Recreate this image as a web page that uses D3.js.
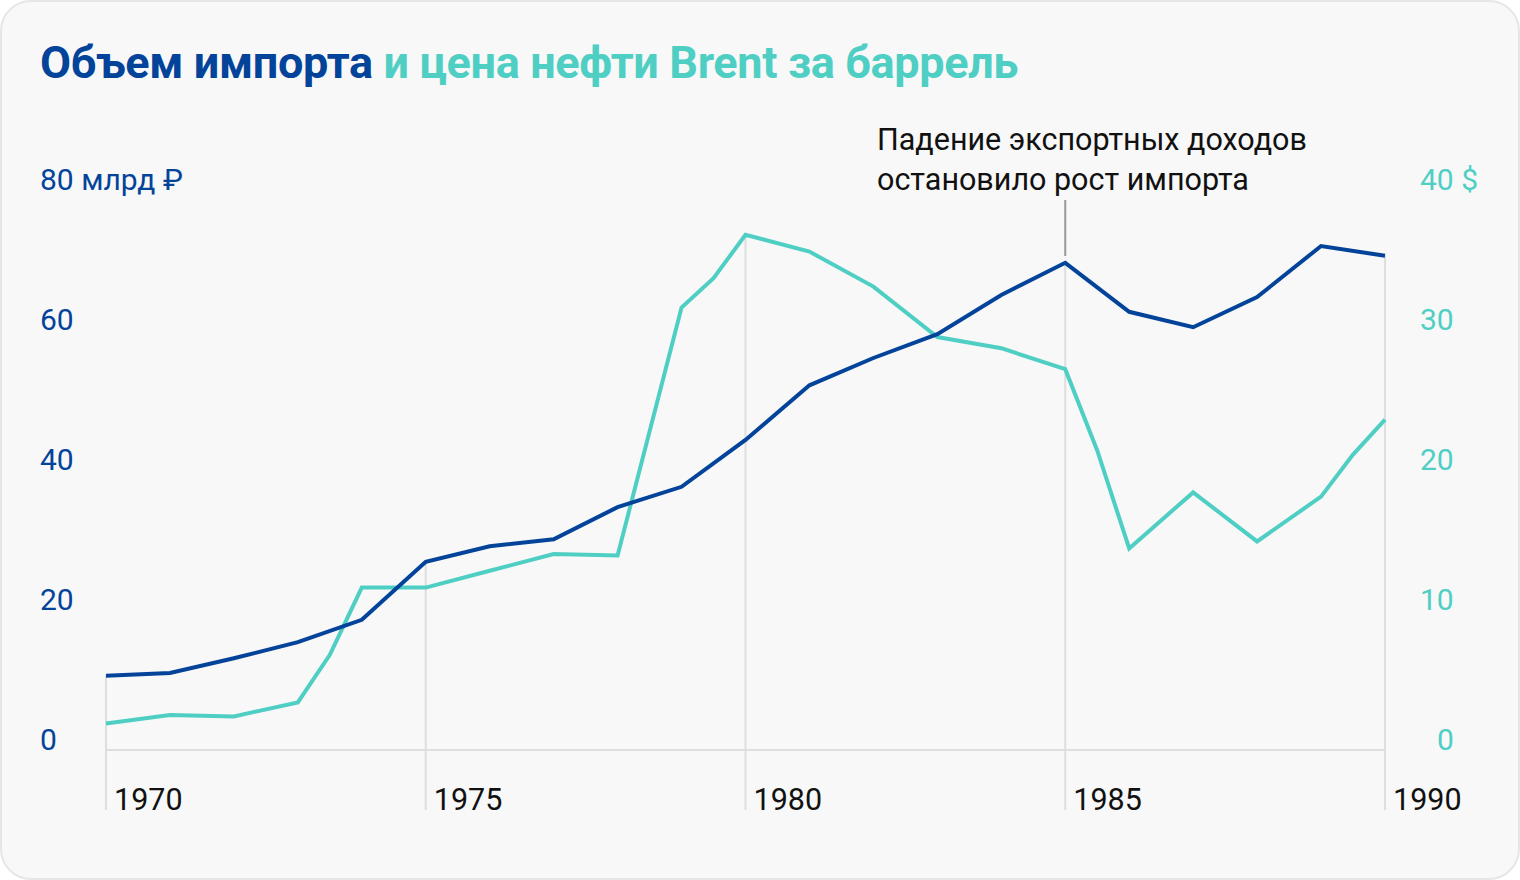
<!DOCTYPE html>
<html><head><meta charset="utf-8">
<script src="https://cdn.jsdelivr.net/npm/d3@7"></script>
<style>
html,body{margin:0;padding:0;background:#fff;}
svg{display:block;font-family:Roboto,"Noto Sans",sans-serif;}
</style></head>
<body>
<svg id="chart" width="1520" height="880"></svg>
<script>
// ---- data ----
const importYears = [1970,1971,1972,1973,1974,1975,1976,1977,1978,1979,1980,1981,1982,1983,1984,1985,1986,1987,1988,1989,1990];
const importValues = [10.6,11.0,13.1,15.4,18.6,26.9,29.1,30.1,34.7,37.6,44.3,52.1,56.0,59.4,65.0,69.6,62.6,60.4,64.7,72.0,70.6];
const brentYears = [1970,1971,1972,1973,1973.5,1974,1975,1976,1977,1978,1979,1979.5,1980,1981,1982,1983,1984,1985,1985.5,1986,1987,1988,1989,1989.5,1990];
const brentValues = [1.9,2.5,2.4,3.4,6.8,11.6,11.6,12.8,14.0,13.9,31.6,33.7,36.8,35.6,33.1,29.5,28.7,27.2,21.4,14.4,18.4,14.9,18.1,21.1,23.6];
const xTicks = [1970,1975,1980,1985,1990];
const leftTicks = [0,20,40,60,80];
const leftTickLabels = ["0","20","40","60","80 млрд ₽"];
const rightTicks = [0,10,20,30,40];
const rightTickLabels = ["0","10","20","30","40 $"];
const titleParts = ["Объем импорта", "и цена нефти Brent за баррель"];
const annotationLines = ["Падение экспортных доходов","остановило рост импорта"];
const annotationYear = 1985;

// ---- style ----
const DARK = "#03449a", TEAL = "#4fcfc4";
const svg = d3.select("#chart");

svg.append("rect").attr("x",1).attr("y",1).attr("width",1518).attr("height",878)
  .attr("rx",30).attr("fill","#f8f8f8").attr("stroke","#e6e6e6").attr("stroke-width",2);

const x = d3.scaleLinear().domain([1970,1990]).range([106,1385]);
const yL = d3.scaleLinear().domain([0,80]).range([750,190]);
const yR = d3.scaleLinear().domain([0,40]).range([750,190]);

// title
const title = svg.append("text").attr("x",40).attr("y",78)
  .attr("font-size",45).attr("font-weight",700).attr("letter-spacing",-0.35);
title.append("tspan").attr("fill",DARK).text(titleParts[0]+" ");
title.append("tspan").attr("fill",TEAL).text(titleParts[1]);

const lineImp = d3.line().x((d,i)=>x(importYears[i])).y(d=>yL(d));
const lineBr = d3.line().x((d,i)=>x(brentYears[i])).y(d=>yR(d));
function valAt(years, vals, yr){
  for(let i=0;i<years.length-1;i++){
    if(yr>=years[i] && yr<=years[i+1]){
      const t=(yr-years[i])/(years[i+1]-years[i]);
      return vals[i]+(vals[i+1]-vals[i])*t;
    }
  }
  return vals[vals.length-1];
}

// vertical grid lines
xTicks.forEach(t=>{
  const top = Math.min(yL(valAt(importYears,importValues,t)), yR(valAt(brentYears,brentValues,t)));
  svg.append("line").attr("x1",x(t)).attr("x2",x(t)).attr("y1",top).attr("y2",810)
    .attr("stroke","#dedede").attr("stroke-width",2);
});
// baseline
svg.append("line").attr("x1",x(1970)).attr("x2",x(1990)).attr("y1",yL(0)).attr("y2",yL(0))
  .attr("stroke","#dedede").attr("stroke-width",2);

// x tick labels
svg.append("g").selectAll("text").data(xTicks).join("text")
  .attr("x",d=>x(d)+8).attr("y",810).attr("font-size",30.5).attr("fill","#111")
  .text(d=>d);

// left labels
svg.append("g").selectAll("text").data(leftTicks).join("text")
  .attr("x",40).attr("y",d=>yL(d)).attr("font-size",30).attr("fill",DARK)
  .text((d,i)=>leftTickLabels[i]);
// right labels
svg.append("g").selectAll("text").data(rightTicks).join("text")
  .attr("x",d=>d===0?1437:1420).attr("y",d=>yR(d)).attr("font-size",30).attr("fill",TEAL)
  .text((d,i)=>rightTickLabels[i]);

// annotation
svg.append("line").attr("x1",x(annotationYear)).attr("x2",x(annotationYear))
  .attr("y1",200).attr("y2",256).attr("stroke","#999").attr("stroke-width",2);
svg.append("g").selectAll("text").data(annotationLines).join("text")
  .attr("x",877).attr("y",(d,i)=>150+i*40).attr("font-size",30.5).attr("fill","#111")
  .text(d=>d);

// lines
svg.append("path").attr("d",lineBr(brentValues)).attr("fill","none")
  .attr("stroke",TEAL).attr("stroke-width",4).attr("stroke-linejoin","miter");
svg.append("path").attr("d",lineImp(importValues)).attr("fill","none")
  .attr("stroke",DARK).attr("stroke-width",4).attr("stroke-linejoin","miter");
</script>
</body></html>
